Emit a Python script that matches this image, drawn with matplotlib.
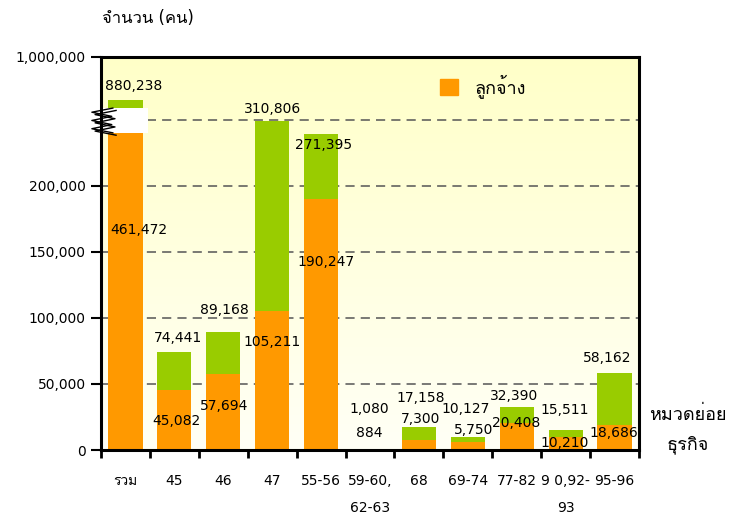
import numpy as np
import matplotlib
matplotlib.use("Agg")
import matplotlib.pyplot as plt
from matplotlib import font_manager
from matplotlib.ft2font import FT2Font
from matplotlib.patches import Patch, Rectangle

# --- data (persons) ---
categories = ["รวม", "45", "46", "47", "55-56", "59-60,\n62-63", "68", "69-74", "77-82",
              "9 0,92-\n93", "95-96"]
employees = [461472, 45082, 57694, 105211, 190247, 884, 7300, 5750, 20408, 10210, 18686]
totals = [880238, 74441, 89168, 310806, 271395, 1080, 17158, 10127, 32390, 15511, 58162]

# broken axis: linear up to 200,000 then compressed (value -> display units)
SCALE_VALUES = [0, 200000, 271395, 310806, 880238, 1000000]
SCALE_DISP = [0, 200000, 239400, 249200, 265200, 297700]
YTICKS = [0, 50000, 100000, 150000, 200000, 1000000]

# label offsets in pixels (reference places them by hand)
total_dx = [8, 4, 1, 0, 2, -1, 2, -2, -3, -1, -7]
total_dy = [14, 14, 22, 12, -11, 40, 29, 28, 11, 20, 15]
emp_dx = [13, 2, 1, 0, 5, -1, 2, 6, -1, -1, -1]
emp_dy = [-115, -31, -32, -31, -63, 16, 21, 12, 0, -6, -8]

ORANGE = "#FF9900"
GREEN = "#99CC00"


def find_thai_font():
    for f in font_manager.fontManager.ttflist:
        try:
            if ord("จ") in FT2Font(f.fname).get_charmap():
                return f.name
        except Exception:
            continue
    return "DejaVu Sans"


thai = find_thai_font()
plt.rcParams["font.family"] = ["DejaVu Sans", thai]


def fwd(v):
    return np.interp(v, SCALE_VALUES, SCALE_DISP)


def inv(d):
    return np.interp(d, SCALE_DISP, SCALE_VALUES)


fig = plt.figure(figsize=(7.29, 5.17), dpi=100)
ax = fig.add_axes([101 / 729, 67 / 517, 538 / 729, 393 / 517])
ax.set_yscale("function", functions=(fwd, inv))
ax.set_ylim(0, 1000000)
x = np.arange(len(categories))
ax.set_xlim(-0.5, len(categories) - 0.5)

# yellow gradient background
grad = np.linspace(0, 1, 256).reshape(-1, 1)
cmap = matplotlib.colors.LinearSegmentedColormap.from_list("bg", ["#FFFFC8", "#FFFFF6"])
ax.imshow(grad, aspect="auto", cmap=cmap, extent=[0, 1, 0, 1], transform=ax.transAxes, zorder=0)

for yv in [50000, 100000, 150000, 200000, inv(250000)]:
    ax.axhline(yv, color="#555555", lw=1.1, ls=(0, (6, 4)), zorder=1)

green_part = [t - e for t, e in zip(totals, employees)]
ax.bar(x, employees, width=0.7, color=ORANGE, zorder=2)
ax.bar(x, green_part, bottom=employees, width=0.7, color=GREEN, zorder=2)

for i in range(len(categories)):
    ax.annotate(f"{totals[i]:,}", (x[i], totals[i]), xytext=(total_dx[i], total_dy[i]),
                textcoords="offset pixels", ha="center", va="center", fontsize=10, zorder=5)
    ax.annotate(f"{employees[i]:,}", (x[i], employees[i]), xytext=(emp_dx[i], emp_dy[i]),
                textcoords="offset pixels", ha="center", va="center", fontsize=10, zorder=5)

# axis break marker
ax.add_patch(Rectangle((0.004, 0.807), 0.083, 0.063, transform=ax.transAxes,
                       facecolor="white", edgecolor="none", zorder=4, clip_on=False))
zz_y = np.linspace(0.87, 0.807, 7)
zz_x = np.array([0.022, -0.017, 0.02, -0.017, 0.02, -0.017, 0.022])
for off in (0.0, 0.006):
    ax.plot(zz_x + off, zz_y - off, color="black", lw=1, transform=ax.transAxes,
            clip_on=False, zorder=6)

# axes styling
for s in ax.spines.values():
    s.set_linewidth(2.2)
ax.set_yticks(YTICKS)
ax.set_yticklabels([f"{v:,}" for v in YTICKS])
ax.yaxis.set_minor_locator(matplotlib.ticker.NullLocator())
ax.tick_params(axis="y", direction="out", length=7, width=1.5, labelsize=10, pad=4)
ax.set_xticks(x)
ax.set_xticklabels(categories, fontsize=10, linespacing=2.2, va="top")
ax.set_xticks(np.arange(-0.5, len(categories)), minor=True)
ax.tick_params(axis="x", which="major", length=0, pad=17)
ax.tick_params(axis="x", which="minor", direction="out", length=6, width=2)

ax.legend(handles=[Patch(color=ORANGE, label="ลูกจ้าง")], loc="center left",
          bbox_to_anchor=(0.60, 0.925), frameon=False, fontsize=13,
          handlelength=1.0, handleheight=1.0, handletextpad=0.9)

fig.text(148 / 729, 1 - 18 / 517, "จำนวน (คน)", ha="center", va="center", fontsize=12)
fig.text(688 / 729, 1 - 415 / 517, "หมวดย่อย", ha="center", va="center", fontsize=13)
fig.text(688 / 729, 1 - 445 / 517, "ธุรกิจ", ha="center", va="center", fontsize=13)

fig.savefig("out.png", dpi=100)
